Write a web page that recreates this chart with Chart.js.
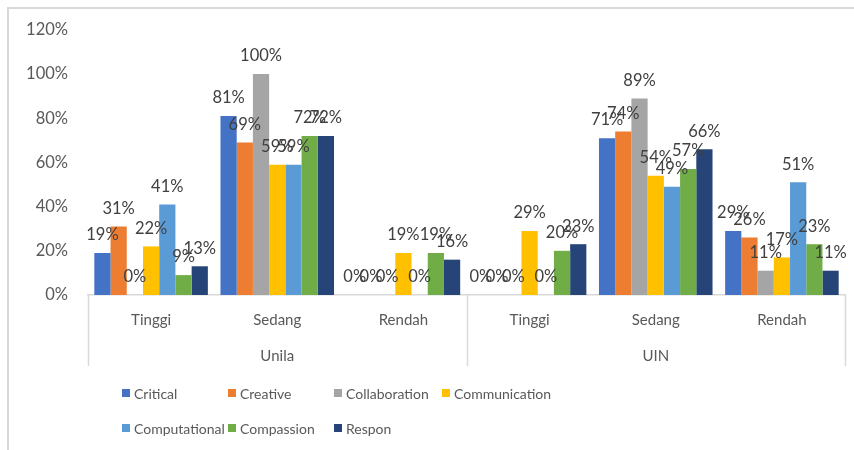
<!DOCTYPE html>
<html>
<head>
<meta charset="utf-8">
<script src="https://cdn.jsdelivr.net/npm/chart.js@4.4.1/dist/chart.umd.min.js"></script>
<style>
  body { margin: 0; background: #fff; }
  #wrap { position: relative; width: 854px; height: 450px; }
  #frame { position: absolute; left: 7px; top: 7px; right: 0; bottom: 0;
           border-left: 2px solid #d9d9d9; border-top: 2px solid #d9d9d9; pointer-events: none; }
  #legend { position: absolute; left: 122px; top: 383px; display: grid;
            grid-template-columns: 106px 106px 108px 130px; row-gap: 15px;
            font-family: Lato, "Open Sans", sans-serif; font-size: 14px; color: #595959; }
  #legend div { display: flex; align-items: center; height: 20px; white-space: nowrap; }
  #legend span.box { width: 8px; height: 8px; margin-right: 4px; display: inline-block; }
</style>
</head>
<body>
<div id="wrap">
  <canvas id="myChart" width="854" height="450"></canvas>
  <div id="frame"></div>
  <div id="legend"></div>
</div>
<script>
const categories = ["Tinggi", "Sedang", "Rendah", "Tinggi", "Sedang", "Rendah"];
const groups = ["Unila", "UIN"];
const yTicks = [0, 20, 40, 60, 80, 100, 120];

const seriesNames = ["Critical", "Creative", "Collaboration", "Communication", "Computational", "Compassion", "Respon"];
const seriesColors = ["#4472C4", "#ED7D31", "#A5A5A5", "#FFC000", "#5B9BD5", "#70AD47", "#264478"];

const critical      = [19, 81, 0, 0, 71, 29];
const creative      = [31, 69, 0, 0, 74, 26];
const collaboration = [0, 100, 0, 0, 89, 11];
const communication = [22, 59, 19, 29, 54, 17];
const computational = [41, 59, 0, 0, 49, 51];
const compassion    = [9, 72, 19, 20, 57, 23];
const respon        = [13, 72, 16, 23, 66, 11];

const seriesValues = [critical, creative, collaboration, communication, computational, compassion, respon];

// etiquetas encima de cada barra
const barLabels = {
  id: "barLabels",
  afterDatasetsDraw(chart) {
    const ctx = chart.ctx;
    ctx.save();
    ctx.font = "16.5px Lato, 'Open Sans', sans-serif";
    ctx.fillStyle = "#404040";
    ctx.textAlign = "center";
    ctx.textBaseline = "middle";
    chart.data.datasets.forEach((ds, i) => {
      chart.getDatasetMeta(i).data.forEach((bar, j) => {
        ctx.fillText(ds.data[j] + "%", bar.x, bar.y - 18);
      });
    });
    ctx.restore();
  },
};

// separadores de grupo debajo del eje
const groupLines = {
  id: "groupLines",
  afterDraw(chart) {
    const x = chart.scales.x;
    const x2 = chart.scales.x2;
    const ctx = chart.ctx;
    const mid = (x.getPixelForValue(2) + x.getPixelForValue(3)) / 2;
    ctx.save();
    ctx.strokeStyle = "#d9d9d9";
    ctx.lineWidth = 1.5;
    [chart.chartArea.left, mid, chart.chartArea.right].forEach((px) => {
      ctx.beginPath();
      ctx.moveTo(Math.round(px) + 0.5, x.top);
      ctx.lineTo(Math.round(px) + 0.5, x2.bottom);
      ctx.stroke();
    });
    ctx.restore();
  },
};

const datasets = seriesNames.map((name, i) => ({
  label: name,
  data: seriesValues[i],
  backgroundColor: seriesColors[i],
  categoryPercentage: 0.9,
  barPercentage: 1.0,
}));

new Chart(document.getElementById("myChart"), {
  type: "bar",
  data: { labels: categories, datasets: datasets },
  options: {
    responsive: false,
    animation: false,
    layout: { padding: { left: 0, right: 9, top: 23, bottom: 84 } },
    plugins: { legend: { display: false }, tooltip: { enabled: false } },
    scales: {
      y: {
        min: 0,
        max: 120,
        afterBuildTicks: (scale) => { scale.ticks = yTicks.map((v) => ({ value: v })); },
        afterFit: (scale) => { scale.width = 88; },
        grid: { display: false, drawTicks: false },
        border: { display: false },
        ticks: {
          padding: 20,
          color: "#595959",
          font: { family: "Lato, 'Open Sans', sans-serif", size: 16.5 },
          callback: (v) => v + "%",
        },
      },
      x: {
        afterFit: (scale) => { scale.height = 41; },
        grid: { display: false, drawTicks: false },
        border: { display: true, color: "#d9d9d9", width: 1.5 },
        ticks: {
          padding: 16,
          color: "#595959",
          font: { family: "Lato, 'Open Sans', sans-serif", size: 15 },
        },
      },
      x2: {
        type: "category",
        labels: groups,
        position: "bottom",
        afterFit: (scale) => { scale.height = 30; },
        grid: { display: false, drawTicks: false },
        border: { display: false },
        ticks: {
          padding: 11,
          color: "#595959",
          font: { family: "Lato, 'Open Sans', sans-serif", size: 15 },
        },
      },
    },
  },
  plugins: [barLabels, groupLines],
});

const legend = document.getElementById("legend");
seriesNames.forEach((name, i) => {
  const item = document.createElement("div");
  item.innerHTML = '<span class="box" style="background:' + seriesColors[i] + '"></span>' + name;
  legend.appendChild(item);
});
</script>
</body>
</html>
